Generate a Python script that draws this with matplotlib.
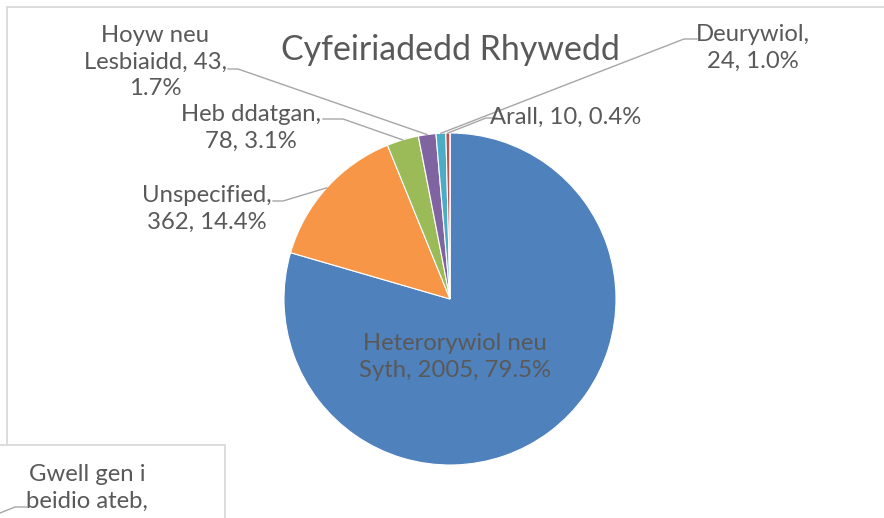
import matplotlib
matplotlib.use("Agg")
import matplotlib.pyplot as plt
import numpy as np
import textwrap
from matplotlib.patches import Rectangle

# ---- data ----
categories = ["Heterorywiol neu Syth", "Unspecified", "Heb ddatgan",
              "Hoyw neu Lesbiaidd", "Deurywiol", "Arall",
              "Gwell gen i beidio ateb"]
values = [2005, 362, 78, 43, 24, 10, 0]
colors = ["#4F81BD", "#F79646", "#9BBB59", "#8064A2", "#4BACC6", "#C0504D", "#2C4D75"]
title = "Cyfeiriadedd Rhywedd"

# ---- layout (pixels, y measured from top) ----
W, H = 884, 518
CX, CY, R = 450, 299, 166
wrap_widths = [17, 12, 12, 14, 10, 20, 12]
visible_lines = [None, None, None, None, None, None, 2]  # last label runs off the canvas
label_pos = [(455, 357), (207, 209), (251, 128), (155, 62), (753, 48), (566, 117), (87, 488)]
# leader: (label-side end, elbow) ; None = no leader
leaders = [None, ((273, 201), (283, 201)), ((323, 119), (343, 119)),
           ((228, 69), (238, 69)), ((697, 39), (684, 39)), ((497, 118), (486, 118)), None]

TXT = "#595959"
LINE = "#A6A6A6"
FONT = ["Lato", "DejaVu Sans"]
LFS = 17.2
LSP = 1.3

fig = plt.figure(figsize=(W / 100, H / 100), dpi=100)
ax = fig.add_axes([0, 0, 1, 1])

def Y(y):
    return H - y

wedges, _ = ax.pie(values, colors=colors, startangle=90, counterclock=False,
                   center=(CX, Y(CY)), radius=R,
                   wedgeprops=dict(edgecolor="white", linewidth=0.8))
ax.set_xlim(0, W)
ax.set_ylim(0, H)
ax.set_aspect("equal")
ax.axis("off")

# chart area border (extends past canvas on right and bottom)
ax.add_patch(Rectangle((7, Y(7) - 700), 1000, 700, fill=False,
                       edgecolor="#D9D9D9", linewidth=1.3, zorder=0.5, clip_on=False))

ax.text(450, Y(50), title, ha="center", va="center", fontsize=24.4,
        color=TXT, family=FONT)

total = sum(values)
for i, (cat, v) in enumerate(zip(categories, values)):
    pct = v / total * 100
    s = f"{cat}, {v}, {pct:.1f}%"
    lines = textwrap.wrap(s, wrap_widths[i])
    if visible_lines[i]:
        lines = lines[:visible_lines[i]]
    s = "\n".join(lines)
    x, y = label_pos[i]
    if i == 6:
        # boxed label at bottom-left
        ax.add_patch(Rectangle((-20, Y(540)), 245, 95, facecolor="white",
                               edgecolor="#D9D9D9", linewidth=1.3, zorder=3))
        ax.text(x, Y(y), s, ha="center", va="center", fontsize=LFS,
                color=TXT, family=FONT, linespacing=LSP, zorder=4)
        ax.plot([27, 15, 0], [Y(507), Y(507), Y(513)], color=LINE, lw=1, zorder=4)
        continue
    ax.text(x, Y(y), s, ha="center", va="center", fontsize=LFS,
            color=TXT, family=FONT, linespacing=LSP, zorder=4)
    if leaders[i] is not None:
        w = wedges[i]
        mid = np.deg2rad((w.theta1 + w.theta2) / 2)
        ex = CX + R * np.cos(mid)
        ey = Y(CY) + R * np.sin(mid)
        (ax0, ay0), (bx, by) = leaders[i]
        ax.plot([ax0, bx, ex], [Y(ay0), Y(by), ey], color=LINE, lw=1, zorder=2)

fig.savefig("out.png", dpi=100)
